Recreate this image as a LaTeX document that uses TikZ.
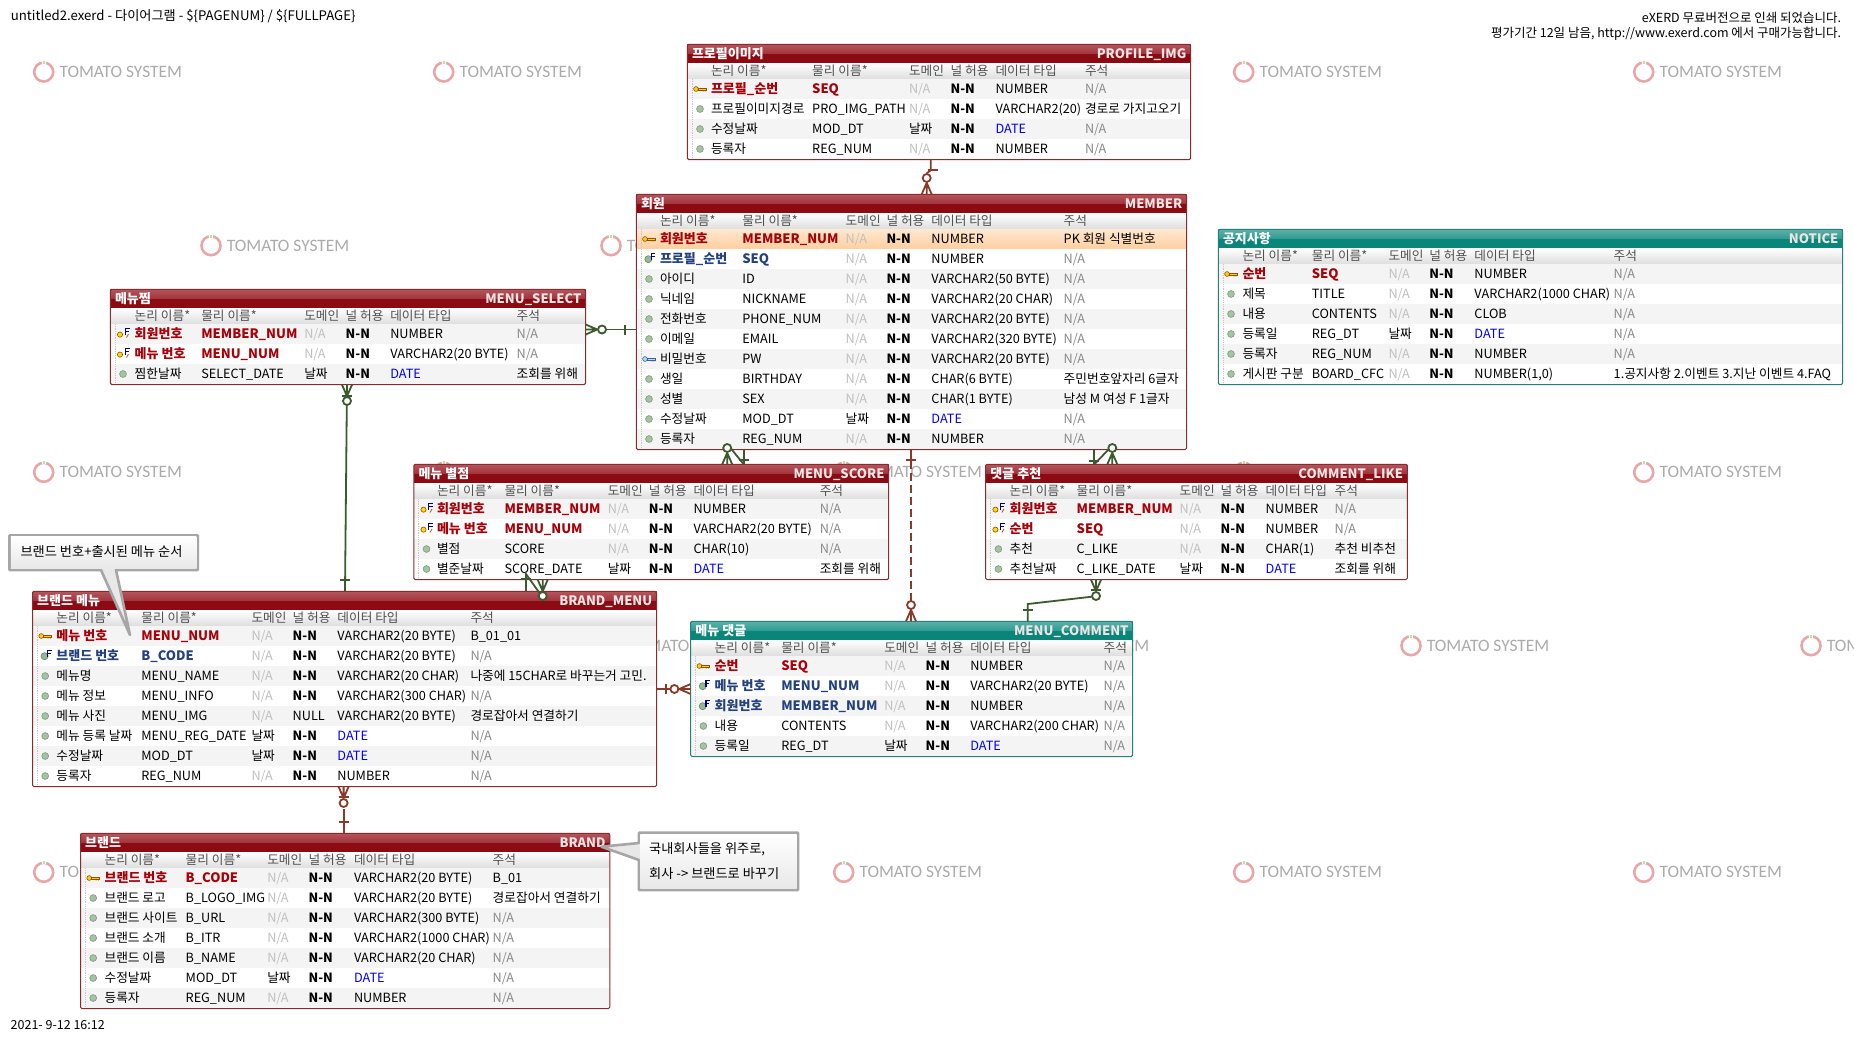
\documentclass[tikz,border=0pt]{standalone}
\usepackage{fontspec}
\setmainfont{Noto Sans CJK KR}
\newfontfamily\wmfont{Carlito}
\usetikzlibrary{calc}
\definecolor{reddark}{HTML}{8C0A12}
\definecolor{redlight}{HTML}{B5555C}
\definecolor{redmid}{HTML}{A2343C}
\definecolor{rededge}{HTML}{8B2A2E}
\definecolor{tealdark}{HTML}{0A857A}
\definecolor{teallight}{HTML}{5CB0A8}
\definecolor{tealmid}{HTML}{2F9C92}
\definecolor{tealedge}{HTML}{25807A}
\definecolor{lnkgreen}{HTML}{3C5A2E}
\definecolor{lnkbrown}{HTML}{8A3A28}
\definecolor{pkred}{HTML}{A80008}
\definecolor{fknavy}{HTML}{23417F}
\definecolor{nagray}{HTML}{C0C0C0}
\definecolor{cmgray}{HTML}{8A8A8A}
\definecolor{hdtext}{HTML}{505050}
\definecolor{rowgray}{HTML}{F4F4F4}
\definecolor{wmgray}{HTML}{ABABAB}
\definecolor{wmring}{HTML}{E8A6A6}
\definecolor{wmtick}{HTML}{B8DDB0}
\definecolor{notegray}{HTML}{A6A6A6}
\definecolor{physwhite}{HTML}{EEE4E4}
\newcommand\fs{\fontsize{12.7}{15}\selectfont}
\newcommand\fsb{\fontsize{13}{15}\selectfont}
\tikzset{
  cell/.style={anchor=base west,inner sep=0pt,outer sep=0pt,font=\fs,text=black},
  cpk/.style={font=\fsb\bfseries,text=pkred},
  cfk/.style={font=\fsb\bfseries,text=fknavy},
  cn/.style={},
  hcell/.style={cell,text=hdtext},
  ttl/.style={anchor=base west,inner sep=0pt,font=\fsb\bfseries,text=white},
  phys/.style={anchor=base east,inner sep=0pt,font=\fsb\bfseries,text=physwhite},
  outline/.style={draw,anchor=north west,rounded corners=1.5pt,line width=1pt,inner sep=0pt,outer sep=0pt,fill=none},
  small/.style={inner sep=0pt,anchor=base west,font=\fontsize{12.5}{14}\selectfont,text=black},
  bigger/.style={small,font=\fontsize{13.2}{15}\selectfont},
  lnk/.style={line width=1.8pt},
  grn/.style={lnk,draw=lnkgreen,color=lnkgreen},
  brn/.style={lnk,draw=lnkbrown,color=lnkbrown},
  crowring/.pic={
    \draw (0,-5)--(11.5,0) (0,0)--(11.5,0) (0,5)--(11.5,0);
    \draw[fill=white] (16.3,0) circle (4);
  },
  erbar/.pic={\draw (0,-5)--(0,5);},
  erdot/.pic={\draw[draw=lnkgreen!60,fill=green!25!gray!60,line width=.7pt] (0,0) circle (3.4);},
  erkey/.pic={
    \draw[draw=orange!60!black,fill=yellow!70!orange,line width=.6pt] (-4,0) circle (2.4);
    \draw[draw=orange!60!black,fill=yellow!70!orange,line width=.6pt] (-1.8,-1.1) rectangle (6,1) ;
    \fill[orange!60!black] (2.5,1) rectangle (3.5,2.4) (4.6,1) rectangle (5.6,2.4);
  },
  erpw/.pic={
    \draw[draw=cyan!40!blue!70!black,fill=cyan!35,line width=.6pt] (-4,0) circle (2.4);
    \draw[draw=cyan!40!blue!70!black,fill=cyan!35,line width=.6pt] (-1.8,-1.1) rectangle (6,1) ;
    \fill[cyan!40!blue!70!black] (2.5,1) rectangle (3.5,2.4) (4.6,1) rectangle (5.6,2.4);
  },
  erpf/.pic={
    \draw[draw=orange!60!black,fill=yellow!80!orange,line width=.6pt] (-3,0.6) circle (2.6);
    \draw[draw=blue!55!black,line width=1.4pt] (2.2,1.4)--(2.2,-5.8)--(6.6,-5.8) (2.2,-2.4)--(6,-2.4);
    \draw[draw=orange!70!black,line width=.8pt] (5.5,0)--(3.5,3.5);
  },
  erfk/.pic={
    \draw[draw=lnkgreen!70,fill=green!25!gray!70,line width=.7pt] (-.7,.2) circle (3.5);
    \draw[draw=blue!55!black,line width=1.4pt] (2.5,1.2)--(2.5,-5.8)--(6.4,-5.8) (2.5,-2.4)--(5.8,-2.4);
  },
}
\def\NAstr{N/A}\def\DTstr{DATE}\def\NNstr{N-N}
\newcommand\domtext[1]{\def\tmpa{#1}\ifx\tmpa\NAstr\textcolor{nagray}{#1}\else #1\fi}
\newcommand\typetext[1]{\def\tmpa{#1}\ifx\tmpa\DTstr\textcolor{blue}{#1}\else #1\fi}
\newcommand\commtext[1]{\def\tmpa{#1}\ifx\tmpa\NAstr\textcolor{cmgray}{#1}\else #1\fi}
\newcommand\nulltext[1]{\def\tmpa{#1}\ifx\tmpa\NNstr{\bfseries #1}\else #1\fi}
% table: name, x, y, width, theme, korean, physical
\newcommand\ertable[7]{%
  \def\tname{#1}\def\tx{#2}\def\ty{#3}\def\tw{#4}\def\rowi{0}\def\theme{#5}\def\hlrow{0}%
  \pgfmathsetmacro\txr{#2+#4}%
  \fill[#5dark] (\tx,\ty) rectangle (\txr,\ty+18.7);
  \shade[top color=#5light,bottom color=#5mid] (\tx,\ty) rectangle (\txr,\ty+9.2);
  \shade[top color=white,bottom color=black!13] (\tx,\ty+18.7) rectangle (\txr,\ty+34.7);
  \node[ttl] (#1-title) at (\tx+4.5,\ty+14) {#6};
  \node[phys] (#1-phys) at (\txr-4,\ty+14) {#7};
}
\newcommand\ercols[6]{%
  \def\ca{#1}\def\cb{#2}\def\cc{#3}\def\cd{#4}\def\ce{#5}\def\cf{#6}%
  \node[hcell] (\tname-h1) at (\ca,\ty+30.7) {논리 이름*};
  \node[hcell] (\tname-h2) at (\cb,\ty+30.7) {물리 이름*};
  \node[hcell] (\tname-h3) at (\cc,\ty+30.7) {도메인};
  \node[hcell] (\tname-h4) at (\cd,\ty+30.7) {널 허용};
  \node[hcell] (\tname-h5) at (\ce,\ty+30.7) {데이터 타입};
  \node[hcell] (\tname-h6) at (\cf,\ty+30.7) {주석};
}
\newcommand\hlnext{\def\hlrow{1}}
% row: icon, kind, logical, physical, domain, null, type, comment
\newcommand\errow[8]{%
  \pgfmathsetmacro\ry{\ty+34.7+20*\rowi}%
  \ifnum\hlrow=1
    \shade[top color=orange!18!white,bottom color=orange!38!white] (\tx,\ry) rectangle (\txr,\ry+20);
    \def\hlrow{0}%
  \else
    \ifodd\rowi\relax\fill[white] (\tx,\ry) rectangle (\txr,\ry+20);\else\fill[rowgray] (\tx,\ry) rectangle (\txr,\ry+20);\fi
  \fi
  \draw[black!22,densely dotted,line width=.8pt] (\tx+5,\ry) -- (\tx+5,\ry+20);
  \pic at (\tx+12.7,\ry+10) {#1};
  \node[cell,#2] (\tname-\rowi-a) at (\ca,\ry+14.5) {#3};
  \node[cell,#2] (\tname-\rowi-b) at (\cb,\ry+14.5) {#4};
  \node[cell] (\tname-\rowi-c) at (\cc,\ry+14.5) {\domtext{#5}};
  \node[cell] (\tname-\rowi-d) at (\cd,\ry+14.5) {\nulltext{#6}};
  \node[cell] (\tname-\rowi-e) at (\ce,\ry+14.5) {\typetext{#7}};
  \node[cell] (\tname-\rowi-f) at (\cf,\ry+14.5) {\commtext{#8}};
  \pgfmathtruncatemacro\rowi{\rowi+1}\global\let\rowi\rowi
}
\newcommand\erend{%
  \pgfmathsetmacro\th{34.7+20*\rowi+.7}%
  \node[outline,draw=\theme edge,minimum width=\tw pt,minimum height=\th pt] (\tname) at (\tx,\ty) {};
}
% watermark
\newcommand\wm[3]{%
  \node[circle,draw=wmring,line width=2.6pt,minimum size=19pt,inner sep=0pt] (#1-ring) at (#2,#3) {};
  \fill[white] (#2-1.8,#3-12) rectangle (#2+1.8,#3-8);
  \fill[wmtick] (#2-1,#3-11) rectangle (#2+1,#3-8);
  \node[anchor=west,inner sep=0pt,font=\wmfont\fontsize{17.4}{20}\selectfont,text=wmgray] (#1-text) at (#2+15.7,#3) {TOMATO SYSTEM};
}
\begin{document}
\begin{tikzpicture}[x=1pt,y=-1pt]
\useasboundingbox (0,0) rectangle (1854,1042);
\fill[white] (0,0) rectangle (1854,1042);
% watermarks
\wm{w11}{43.7}{72}\wm{w12}{443.7}{72}\wm{w14}{1243.7}{72}\wm{w15}{1643.7}{72}
\wm{w21}{211}{245.7}\wm{w22}{611}{245.7}
\wm{w31}{43.7}{472.3}\wm{w32}{443.7}{472.3}\wm{w33}{843.7}{472.3}\wm{w34}{1243.7}{472.3}\wm{w35}{1643.7}{472.3}
\wm{w42}{611}{645.7}\wm{w43}{1011}{645.7}\wm{w44}{1411}{645.7}\wm{w45}{1811}{645.7}
\wm{w51}{43.7}{872.3}\wm{w53}{843.7}{872.3}\wm{w54}{1243.7}{872.3}\wm{w55}{1643.7}{872.3}
% page texts
\node[bigger,anchor=base west] (pagehead) at (10.7,20) {untitled2.exerd - 다이어그램 - \$\{PAGENUM\} / \$\{FULLPAGE\}};
\node[small,anchor=base east] (trial1) at (1841.4,22) {eXERD 무료버전으로 인쇄 되었습니다.};
\node[small,anchor=base east] (trial2) at (1841.4,37) {평가기간 12일 남음, http://www.exerd.com 에서 구매가능합니다.};
\node[small,anchor=base west] (stamp) at (10.5,1029) {2021- 9-12 16:12};
% PROFILE_IMG
\ertable{PROFILE}{687.3}{44.3}{503.3}{red}{프로필이미지}{PROFILE\_IMG}
\ercols{711}{812.2}{909}{950.6}{995.5}{1085}
\errow{erkey}{cpk}{프로필\_순번}{SEQ}{N/A}{N-N}{NUMBER}{N/A}
\errow{erdot}{cn}{프로필이미지경로}{PRO\_IMG\_PATH}{N/A}{N-N}{VARCHAR2(20)}{경로로 가지고오기}
\errow{erdot}{cn}{수정날짜}{MOD\_DT}{날짜}{N-N}{DATE}{N/A}
\errow{erdot}{cn}{등록자}{REG\_NUM}{N/A}{N-N}{NUMBER}{N/A}
\erend
% MEMBER
\ertable{MEMBER}{636.3}{194.3}{550.2}{red}{회원}{MEMBER}
\ercols{660}{742.4}{845.7}{886.5}{931.4}{1063.7}
\hlnext
\errow{erkey}{cpk}{회원번호}{MEMBER\_NUM}{N/A}{N-N}{NUMBER}{PK 회원 식별번호}
\errow{erfk}{cfk}{프로필\_순번}{SEQ}{N/A}{N-N}{NUMBER}{N/A}
\errow{erdot}{cn}{아이디}{ID}{N/A}{N-N}{VARCHAR2(50 BYTE)}{N/A}
\errow{erdot}{cn}{닉네임}{NICKNAME}{N/A}{N-N}{VARCHAR2(20 CHAR)}{N/A}
\errow{erdot}{cn}{전화번호}{PHONE\_NUM}{N/A}{N-N}{VARCHAR2(20 BYTE)}{N/A}
\errow{erdot}{cn}{이메일}{EMAIL}{N/A}{N-N}{VARCHAR2(320 BYTE)}{N/A}
\errow{erpw}{cn}{비밀번호}{PW}{N/A}{N-N}{VARCHAR2(20 BYTE)}{N/A}
\errow{erdot}{cn}{생일}{BIRTHDAY}{N/A}{N-N}{CHAR(6 BYTE)}{주민번호앞자리 6글자}
\errow{erdot}{cn}{성별}{SEX}{N/A}{N-N}{CHAR(1 BYTE)}{남성 M 여성 F 1글자}
\errow{erdot}{cn}{수정날짜}{MOD\_DT}{날짜}{N-N}{DATE}{N/A}
\errow{erdot}{cn}{등록자}{REG\_NUM}{N/A}{N-N}{NUMBER}{N/A}
\erend
% NOTICE
\ertable{NOTICE}{1218.3}{229.3}{624.3}{teal}{공지사항}{NOTICE}
\ercols{1242.5}{1311.8}{1388.5}{1429.4}{1474.4}{1613.7}
\errow{erkey}{cpk}{순번}{SEQ}{N/A}{N-N}{NUMBER}{N/A}
\errow{erdot}{cn}{제목}{TITLE}{N/A}{N-N}{VARCHAR2(1000 CHAR)}{N/A}
\errow{erdot}{cn}{내용}{CONTENTS}{N/A}{N-N}{CLOB}{N/A}
\errow{erdot}{cn}{등록일}{REG\_DT}{날짜}{N-N}{DATE}{N/A}
\errow{erdot}{cn}{등록자}{REG\_NUM}{N/A}{N-N}{NUMBER}{N/A}
\errow{erdot}{cn}{게시판 구분}{BOARD\_CFC}{N/A}{N-N}{NUMBER(1,0)}{1.공지사항 2.이벤트 3.지난 이벤트 4.FAQ}
\erend
% MENU_SELECT
\ertable{MSEL}{110.3}{289.3}{475.4}{red}{메뉴찜}{MENU\_SELECT}
\ercols{134.7}{201.3}{304.3}{345.7}{390.3}{516.7}
\errow{erpf}{cpk}{회원번호}{MEMBER\_NUM}{N/A}{N-N}{NUMBER}{N/A}
\errow{erpf}{cpk}{메뉴 번호}{MENU\_NUM}{N/A}{N-N}{VARCHAR2(20 BYTE)}{N/A}
\errow{erdot}{cn}{찜한날짜}{SELECT\_DATE}{날짜}{N-N}{DATE}{조회를 위해}
\erend
% MENU_SCORE
\ertable{SCORE}{413.8}{464.3}{474.9}{red}{메뉴 별점}{MENU\_SCORE}
\ercols{437}{504.5}{607.8}{648.8}{693.5}{819.8}
\errow{erpf}{cpk}{회원번호}{MEMBER\_NUM}{N/A}{N-N}{NUMBER}{N/A}
\errow{erpf}{cpk}{메뉴 번호}{MENU\_NUM}{N/A}{N-N}{VARCHAR2(20 BYTE)}{N/A}
\errow{erdot}{cn}{별점}{SCORE}{N/A}{N-N}{CHAR(10)}{N/A}
\errow{erdot}{cn}{별준날짜}{SCORE\_DATE}{날짜}{N-N}{DATE}{조회를 위해}
\erend
% COMMENT_LIKE
\ertable{LIKE}{985.7}{464.3}{421.6}{red}{댓글 추천}{COMMENT\_LIKE}
\ercols{1009.7}{1076.7}{1179.7}{1220.7}{1265.7}{1334.7}
\errow{erpf}{cpk}{회원번호}{MEMBER\_NUM}{N/A}{N-N}{NUMBER}{N/A}
\errow{erpf}{cpk}{순번}{SEQ}{N/A}{N-N}{NUMBER}{N/A}
\errow{erdot}{cn}{추천}{C\_LIKE}{N/A}{N-N}{CHAR(1)}{추천 비추천}
\errow{erdot}{cn}{추천날짜}{C\_LIKE\_DATE}{날짜}{N-N}{DATE}{조회를 위해}
\erend
% BRAND_MENU
\ertable{BMENU}{32.5}{591.3}{624}{red}{브랜드 메뉴}{BRAND\_MENU}
\ercols{56.4}{141.4}{251.5}{292.7}{337.4}{470.5}
\errow{erkey}{cpk}{메뉴 번호}{MENU\_NUM}{N/A}{N-N}{VARCHAR2(20 BYTE)}{B\_01\_01}
\errow{erfk}{cfk}{브랜드 번호}{B\_CODE}{N/A}{N-N}{VARCHAR2(20 BYTE)}{N/A}
\errow{erdot}{cn}{메뉴명}{MENU\_NAME}{N/A}{N-N}{VARCHAR2(20 CHAR)}{나중에 15CHAR로 바꾸는거 고민.}
\errow{erdot}{cn}{메뉴 정보}{MENU\_INFO}{N/A}{N-N}{VARCHAR2(300 CHAR)}{N/A}
\errow{erdot}{cn}{메뉴 사진}{MENU\_IMG}{N/A}{NULL}{VARCHAR2(20 BYTE)}{경로잡아서 연결하기}
\errow{erdot}{cn}{메뉴 등록 날짜}{MENU\_REG\_DATE}{날짜}{N-N}{DATE}{N/A}
\errow{erdot}{cn}{수정날짜}{MOD\_DT}{날짜}{N-N}{DATE}{N/A}
\errow{erdot}{cn}{등록자}{REG\_NUM}{N/A}{N-N}{NUMBER}{N/A}
\erend
% MENU_COMMENT
\ertable{MCOM}{690.7}{621.3}{442}{teal}{메뉴 댓글}{MENU\_COMMENT}
\ercols{714.7}{781.3}{884.3}{925.7}{970.3}{1103.7}
\errow{erkey}{cpk}{순번}{SEQ}{N/A}{N-N}{NUMBER}{N/A}
\errow{erfk}{cfk}{메뉴 번호}{MENU\_NUM}{N/A}{N-N}{VARCHAR2(20 BYTE)}{N/A}
\errow{erfk}{cfk}{회원번호}{MEMBER\_NUM}{N/A}{N-N}{NUMBER}{N/A}
\errow{erdot}{cn}{내용}{CONTENTS}{N/A}{N-N}{VARCHAR2(200 CHAR)}{N/A}
\errow{erdot}{cn}{등록일}{REG\_DT}{날짜}{N-N}{DATE}{N/A}
\erend
% BRAND
\ertable{BRAND}{80.5}{833.3}{529.3}{red}{브랜드}{BRAND}
\ercols{104.6}{185.7}{267.3}{308.6}{354}{492.7}
\errow{erkey}{cpk}{브랜드 번호}{B\_CODE}{N/A}{N-N}{VARCHAR2(20 BYTE)}{B\_01}
\errow{erdot}{cn}{브랜드 로고}{B\_LOGO\_IMG}{N/A}{N-N}{VARCHAR2(20 BYTE)}{경로잡아서 연결하기}
\errow{erdot}{cn}{브랜드 사이트}{B\_URL}{N/A}{N-N}{VARCHAR2(300 BYTE)}{N/A}
\errow{erdot}{cn}{브랜드 소개}{B\_ITR}{N/A}{N-N}{VARCHAR2(1000 CHAR)}{N/A}
\errow{erdot}{cn}{브랜드 이름}{B\_NAME}{N/A}{N-N}{VARCHAR2(20 CHAR)}{N/A}
\errow{erdot}{cn}{수정날짜}{MOD\_DT}{날짜}{N-N}{DATE}{N/A}
\errow{erdot}{cn}{등록자}{REG\_NUM}{N/A}{N-N}{NUMBER}{N/A}
\erend
% connectors
% PROFILE - MEMBER
\draw[brn] ([xshift=243.4pt]PROFILE.south west) -- ++(0,10.5) -- ([xshift=290.4pt,yshift=21pt]MEMBER.north west);
\pic[brn,rotate=90] at ([xshift=290.4pt]MEMBER.north west) {crowring};
\pic[brn,rotate=90] at ([xshift=246pt,yshift=-10.3pt]PROFILE.south west) {erbar};
% MEMBER - MENU_SELECT
\draw[grn] ([yshift=-40.2pt]MSEL.north east) -- ([yshift=-135.2pt]MEMBER.north west);
\pic[grn] at ([yshift=-40.2pt]MSEL.north east) {crowring};
\pic[grn] at ([xshift=-11.3pt,yshift=-135.2pt]MEMBER.north west) {erbar};
% BRAND_MENU - MENU_SELECT
\draw[grn] ([xshift=236.7pt]MSEL.south west) -- ([xshift=312.5pt]BMENU.north west);
\pic[grn,rotate=-90] at ([xshift=236.7pt]MSEL.south west) {crowring};
\pic[grn,rotate=90] at ([xshift=236.7pt,yshift=-11.3pt]MSEL.south west) {erbar};
\pic[grn,rotate=90] at ([xshift=312.5pt,yshift=11.3pt]BMENU.north west) {erbar};
% BRAND_MENU - MENU_SCORE
\draw[grn] ([xshift=493.5pt]BMENU.north west) -- ++(0,-17.3) -- ([xshift=125.5pt,yshift=-13pt]SCORE.south west);
\pic[grn,rotate=-90] at ([xshift=128.9pt]SCORE.south west) {crowring};
\pic[grn,rotate=90] at ([xshift=493.5pt,yshift=12pt]BMENU.north west) {erbar};
% MEMBER - MENU_SCORE
\draw[grn] ([xshift=107.4pt]MEMBER.south west) -- ([xshift=329.9pt]SCORE.north west);
\draw[grn] ([xshift=94pt,yshift=2pt]MEMBER.south west) -- ([xshift=329.9pt]SCORE.north west);
\pic[grn,rotate=90] at ([xshift=313.4pt]SCORE.north west) {crowring};
\pic[grn,rotate=90] at ([xshift=329.9pt,yshift=4.3pt]SCORE.north west) {erbar};
% MEMBER - COMMENT_LIKE
\draw[grn] ([xshift=458pt]MEMBER.south west) -- ([xshift=108.6pt]LIKE.north west);
\draw[grn] ([xshift=472pt,yshift=0pt]MEMBER.south west) -- ([xshift=108.6pt]LIKE.north west);
\pic[grn,rotate=90] at ([xshift=126.6pt]LIKE.north west) {crowring};
\pic[grn,rotate=90] at ([xshift=108.6pt,yshift=3.6pt]LIKE.north west) {erbar};
% MEMBER - MENU_COMMENT
\draw[brn,dash pattern=on 8pt off 4pt] ([xshift=274.7pt,yshift=-11pt]MEMBER.south west) -- ([xshift=220.3pt]MCOM.north west);
\draw[brn] ([xshift=274.7pt]MEMBER.south west) -- ++(0,11);
\pic[brn,rotate=90] at ([xshift=274.7pt,yshift=-10.3pt]MEMBER.south west) {erbar};
\pic[brn,rotate=90] at ([xshift=220.3pt]MCOM.north west) {crowring};
% BRAND_MENU - MENU_COMMENT
\draw[brn] ([yshift=-97.7pt]BMENU.north east) -- ([yshift=-67.7pt]MCOM.north west);
\pic[brn,rotate=180] at ([yshift=-67.7pt]MCOM.north west) {crowring};
\pic[brn] at ([xshift=9.5pt,yshift=-97.7pt]BMENU.north east) {erbar};
% COMMENT_LIKE - MENU_COMMENT
\draw[grn] ([xshift=337pt]MCOM.north west) -- ++(0,-17.3) -- ([xshift=106pt,yshift=-17pt]LIKE.south west);
\pic[grn,rotate=-90] at ([xshift=110.3pt]LIKE.south west) {crowring};
\pic[grn,rotate=90] at ([xshift=110.3pt,yshift=-10.3pt]LIKE.south west) {erbar};
\pic[grn,rotate=90] at ([xshift=337pt,yshift=11.3pt]MCOM.north west) {erbar};
% BRAND - BRAND_MENU
\draw[brn] ([xshift=263.1pt]BRAND.north west) -- ++(0,-24);
\pic[brn,rotate=-90] at ([xshift=311.1pt]BMENU.south west) {crowring};
\pic[brn,rotate=90] at ([xshift=311.1pt,yshift=-10pt]BMENU.south west) {erbar};
\pic[brn,rotate=90] at ([xshift=263.1pt,yshift=11.6pt]BRAND.north west) {erbar};
% notes
\path[draw=notegray,fill=black!9,line width=2.6pt,line join=round] (9.5,535.3) -- (197.7,535.3) -- (197.7,570) -- (116,570) -- (130,635) -- (101,570) -- (9.5,570) -- cycle;
\shade[top color=white,bottom color=black!9] (10.8,536.6) rectangle (196.4,568.7);
\node[bigger] (note1) at (20.4,556) {브랜드 번호+출시된 메뉴 순서};
\path[draw=notegray,fill=black!9,line width=2.6pt,line join=round] (639,832.7) -- (798,832.7) -- (798,890) -- (639,890) -- (639,860) -- (601.5,846.7) -- (639,843) -- cycle;
\shade[top color=white,bottom color=black!9] (640.3,834) rectangle (796.7,888.7);
\node[bigger] (note2a) at (649,853) {국내회사들을 위주로,};
\node[bigger] (note2b) at (649,878) {회사 -> 브랜드로 바꾸기};
\end{tikzpicture}
\end{document}
